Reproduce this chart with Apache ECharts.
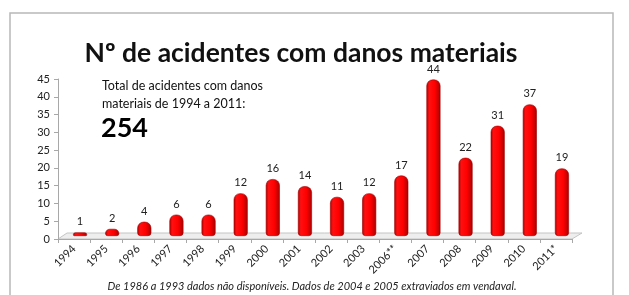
<!DOCTYPE html>
<html>
<head>
<meta charset="utf-8">
<script src="https://cdn.jsdelivr.net/npm/echarts@6/dist/echarts.min.js"></script>
<style>
  html, body { margin:0; padding:0; background:#fff; }
  #chart { width:629px; height:295px; }
</style>
</head>
<body>
<div id="chart"></div>
<script>
const years = ['1994', '1995', '1996', '1997', '1998', '1999', '2000', '2001', '2002', '2003', '2006**', '2007', '2008', '2009', '2010', '2011*']
const accidents = [1, 2, 4, 6, 6, 12, 16, 14, 11, 12, 17, 44, 22, 31, 37, 19]
const yTicks = { min: 0, max: 45, interval: 5 }

const chart = echarts.init(document.getElementById('chart'))
const font = 'Lato, "Open Sans", sans-serif'

// bar body: dark edges, bright middle, like a cylinder
const barColor = new echarts.graphic.LinearGradient(0, 0, 1, 0, [
  { offset: 0, color: '#b30000' },
  { offset: 0.2, color: '#ff1010' },
  { offset: 0.6, color: '#ff0000' },
  { offset: 1, color: '#a80000' }
])

chart.setOption({
  animation: false,
  title: {
    text: 'Nº de acidentes com danos materiais',
    left: 296, top: 35, textAlign: 'center',
    textStyle: { fontFamily: font, fontWeight: 'bold', fontSize: 26.5, color: '#111' }
  },
  grid: [
    // front plane: axes
    { left: 58, top: 79, width: 514, height: 160 },
    // back plane: bars (3D depth offset)
    { left: 64, top: 76, width: 514, height: 160 }
  ],
  xAxis: [
    {
      gridIndex: 0, type: 'category', data: years,
      axisLine: { lineStyle: { color: '#a8a8a8' } },
      axisTick: { show: true, length: 4, lineStyle: { color: '#a8a8a8' } },
      axisLabel: { rotate: 45, fontSize: 11, color: '#222', fontFamily: font, margin: 8, interval: 0 }
    },
    { gridIndex: 1, type: 'category', data: years, show: false }
  ],
  yAxis: [
    {
      gridIndex: 0, type: 'value', ...yTicks,
      axisLine: { show: true, lineStyle: { color: '#a8a8a8' } },
      axisTick: { show: true, length: 4, lineStyle: { color: '#a8a8a8' } },
      axisLabel: { fontSize: 11, color: '#222', fontFamily: font, margin: 8 },
      splitLine: { show: false }
    },
    { gridIndex: 1, type: 'value', ...yTicks, show: false, splitLine: { show: false } }
  ],
  series: [{
    type: 'bar', xAxisIndex: 1, yAxisIndex: 1,
    data: accidents,
    barWidth: 14,
    itemStyle: { color: barColor, borderRadius: [6, 6, 3, 3], borderColor: '#9a0000', borderWidth: 0.6 },
    label: { show: true, position: 'top', distance: 5, fontSize: 11, color: '#222', fontFamily: font }
  }]
})

// floor of the 3D plot, tied to the axis ends
const p0 = chart.convertToPixel({ gridIndex: 0 }, [0, 0])
const x0 = 58, x1 = 58 + 514, y0 = p0[1]
chart.setOption({
  graphic: [
    { type: 'rect', shape: { x: 10, y: 13, width: 603, height: 290 }, style: { fill: 'none', stroke: '#b8b8b8', lineWidth: 1.5 }, z: 0 },
    {
      type: 'polygon', z: 0,
      shape: { points: [[x0, y0], [x1, y0], [x1 + 10, y0 - 6], [x0 + 9, y0 - 6]] },
      style: { fill: '#eeeeee', stroke: '#c4c4c4', lineWidth: 1 }
    },
    {
      type: 'text', left: 102, top: 77, z: 10,
      style: { text: 'Total de acidentes com danos\nmateriais de 1994 a 2011:', font: '12.5px ' + font, fill: '#111', lineHeight: 18 }
    },
    {
      type: 'text', left: 101, top: 115, z: 10,
      style: { text: '254', font: 'bold 27px ' + font, fill: '#000' }
    },
    {
      type: 'text', x: 312, y: 281, z: 10,
      style: { text: 'De 1986 a 1993 dados não disponíveis. Dados de 2004 e 2005 extraviados em vendaval.', font: 'italic 11px ' + font, fill: '#222', align: 'center', textAlign: 'center' }
    }
  ]
})
</script>
</body>
</html>
